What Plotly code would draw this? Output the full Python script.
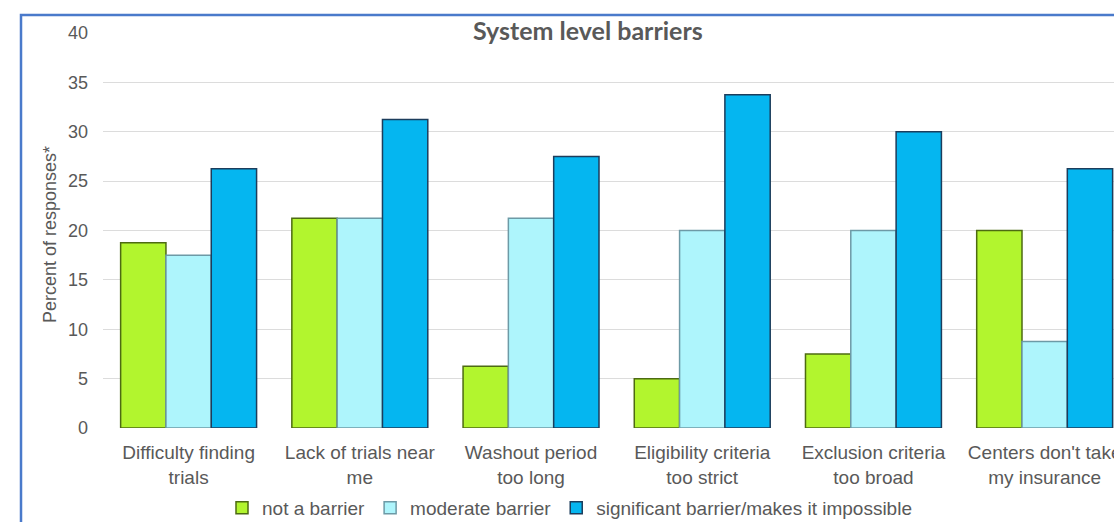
import plotly.graph_objects as go

categories = ["Difficulty finding<br>trials", "Lack of trials near<br>me", "Washout period<br>too long",
              "Eligibility criteria<br>too strict", "Exclusion criteria<br>too broad", "Centers don't take<br>my insurance"]
not_a_barrier = [18.75, 21.25, 6.25, 5.0, 7.5, 20.0]
moderate_barrier = [17.5, 21.25, 21.25, 20.0, 20.0, 8.75]
significant_barrier = [26.25, 31.25, 27.5, 33.75, 30.0, 26.25]
series_names = ["not a barrier", "moderate barrier", "significant barrier/makes it impossible"]
y_ticks = [0, 5, 10, 15, 20, 25, 30, 35, 40]

W, H = 1114, 522
L, R, T, B = 103, 0, 33, 94
pw, ph = W - L - R, H - T - B

def px_x(p):
    return (p - L) / pw

def px_y(p):
    return (H - B - p) / ph

fig = go.Figure()
styles = [("#b2f52e", "#4d6b12"), ("#aef5fc", "#6d9aa6"), ("#05b6f0", "#1c3d5c")]
for name, vals, (fc, lc) in zip(series_names, [not_a_barrier, moderate_barrier, significant_barrier], styles):
    fig.add_trace(go.Bar(x=categories, y=vals, name=name,
                         marker=dict(color=fc, line=dict(color=lc, width=1.5))))

fig.update_layout(
    width=W, height=H,
    margin=dict(l=L, r=R, t=T, b=B, pad=0, autoexpand=False),
    paper_bgcolor="white", plot_bgcolor="white",
    barmode="group", bargap=0.206, bargroupgap=0,
    font=dict(family="Liberation Sans, Arial", color="#595959", size=18),
    showlegend=True,
    legend=dict(orientation="h", x=px_x(222), xanchor="left", y=px_y(508), yanchor="middle",
                font=dict(size=19, color="#595959"), itemwidth=30, traceorder="normal",
                bgcolor="rgba(0,0,0,0)"),
    xaxis=dict(range=[-0.5, 5.405], showgrid=False, showline=False, automargin=False,
               ticks="", tickfont=dict(size=19, color="#595959"), ticklabelstandoff=11,
               fixedrange=True),
    yaxis=dict(range=[0, 40], tickvals=y_ticks, showgrid=True, gridcolor="#dcdcdc", gridwidth=1,
               zeroline=False, showline=False, ticks="", ticklabelstandoff=14, automargin=False,
               tickfont=dict(size=18, color="#595959")),
)

fig.add_annotation(text="Percent of responses*", xref="paper", yref="paper",
                   x=px_x(50), y=px_y(235), textangle=-90, showarrow=False,
                   font=dict(size=18, color="#595959"), xanchor="center", yanchor="middle")

# white gap in the top gridline behind the title
fig.add_shape(type="rect", xref="paper", yref="paper",
              x0=px_x(452), y0=px_y(38), x1=px_x(712), y1=px_y(27),
              line=dict(width=0), fillcolor="white", layer="above")

fig.add_annotation(text="<b>System level barriers</b>", xref="paper", yref="paper",
                   x=px_x(588), y=px_y(30), showarrow=False,
                   font=dict(size=25, color="#595959", family="Lato"),
                   xanchor="center", yanchor="middle")

fig.add_shape(type="rect", xref="paper", yref="paper",
              x0=px_x(21), y0=px_y(600), x1=px_x(1200), y1=px_y(15),
              line=dict(color="#4a7acb", width=2.5), layer="above")

fig.write_html("out.html")
